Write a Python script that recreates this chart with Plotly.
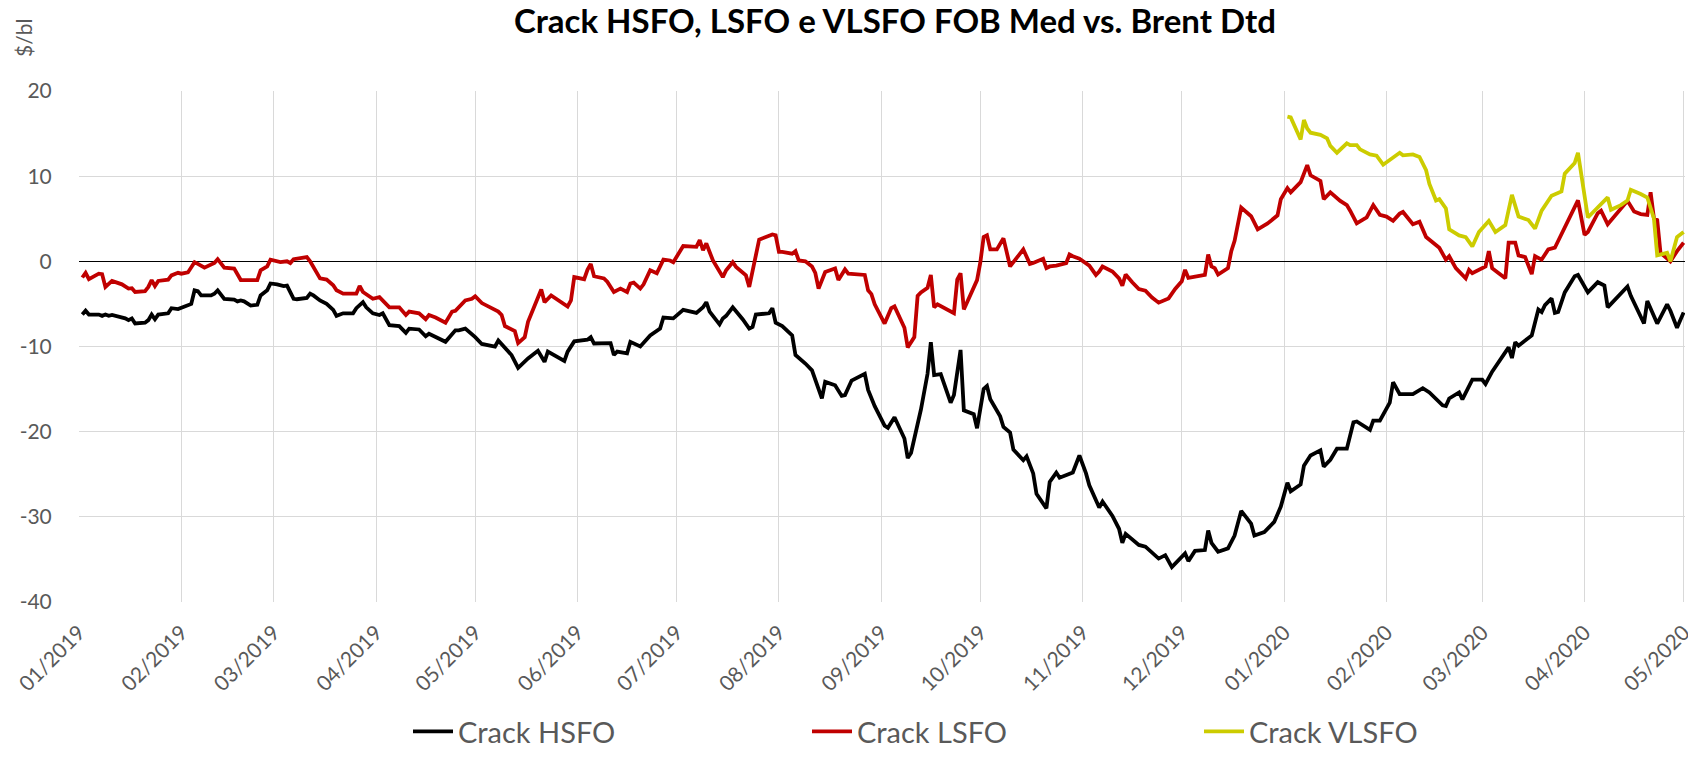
import plotly.graph_objects as go

# ---------------- data ----------------
hsfo_dates = [
    "2019-01-02","2019-01-03","2019-01-04","2019-01-07","2019-01-08","2019-01-09","2019-01-10","2019-01-11",
    "2019-01-15","2019-01-16","2019-01-17","2019-01-18","2019-01-21","2019-01-22","2019-01-23","2019-01-24",
    "2019-01-25","2019-01-28","2019-01-29","2019-01-31","2019-02-02","2019-02-04","2019-02-05","2019-02-06",
    "2019-02-07","2019-02-10","2019-02-11","2019-02-12","2019-02-14","2019-02-17","2019-02-18","2019-02-19",
    "2019-02-20","2019-02-22","2019-02-24","2019-02-25","2019-02-27","2019-02-28","2019-03-02","2019-03-04",
    "2019-03-05","2019-03-07","2019-03-08","2019-03-11","2019-03-12","2019-03-13","2019-03-15","2019-03-17",
    "2019-03-19","2019-03-20","2019-03-22","2019-03-25","2019-03-26","2019-03-28","2019-03-29","2019-03-31",
    "2019-04-02","2019-04-03","2019-04-05","2019-04-08","2019-04-10","2019-04-11","2019-04-14","2019-04-16",
    "2019-04-17","2019-04-19","2019-04-22","2019-04-25","2019-04-26","2019-04-28","2019-04-30","2019-05-01",
    "2019-05-03","2019-05-07","2019-05-08","2019-05-10","2019-05-12","2019-05-14","2019-05-17","2019-05-20",
    "2019-05-22","2019-05-23","2019-05-28","2019-05-29","2019-05-31","2019-06-04","2019-06-05","2019-06-06",
    "2019-06-11","2019-06-12","2019-06-13","2019-06-16","2019-06-17","2019-06-20","2019-06-23","2019-06-26",
    "2019-06-27","2019-06-30","2019-07-03","2019-07-07","2019-07-09","2019-07-10","2019-07-11","2019-07-14",
    "2019-07-15","2019-07-16","2019-07-18","2019-07-21","2019-07-23","2019-07-24","2019-07-25","2019-07-29",
    "2019-07-30","2019-07-31","2019-08-02","2019-08-05","2019-08-06","2019-08-09","2019-08-11","2019-08-14",
    "2019-08-15","2019-08-18","2019-08-20","2019-08-21","2019-08-23","2019-08-27","2019-08-28","2019-08-30",
    "2019-09-02","2019-09-03","2019-09-05","2019-09-08","2019-09-09","2019-09-10","2019-09-12","2019-09-13",
    "2019-09-15","2019-09-16","2019-09-17","2019-09-19","2019-09-22","2019-09-23","2019-09-25","2019-09-26",
    "2019-09-29","2019-09-30","2019-10-02","2019-10-03","2019-10-04","2019-10-07","2019-10-08","2019-10-10",
    "2019-10-11","2019-10-14","2019-10-15","2019-10-17","2019-10-18","2019-10-21","2019-10-22","2019-10-24",
    "2019-10-25","2019-10-29","2019-10-31","2019-11-02","2019-11-03","2019-11-05","2019-11-06","2019-11-07",
    "2019-11-10","2019-11-12","2019-11-13","2019-11-14","2019-11-18","2019-11-20","2019-11-22","2019-11-24",
    "2019-11-26","2019-11-28","2019-12-02","2019-12-03","2019-12-05","2019-12-08","2019-12-09","2019-12-10",
    "2019-12-12","2019-12-15","2019-12-17","2019-12-19","2019-12-22","2019-12-23","2019-12-26","2019-12-29",
    "2019-12-31","2020-01-02","2020-01-03","2020-01-06","2020-01-07","2020-01-09","2020-01-12","2020-01-13",
    "2020-01-15","2020-01-17","2020-01-20","2020-01-22","2020-01-23","2020-01-27","2020-01-28","2020-01-30",
    "2020-02-02","2020-02-03","2020-02-05","2020-02-09","2020-02-12","2020-02-14","2020-02-18","2020-02-19",
    "2020-02-20","2020-02-23","2020-02-24","2020-02-26","2020-02-27","2020-03-01","2020-03-02","2020-03-04",
    "2020-03-09","2020-03-10","2020-03-11","2020-03-12","2020-03-16","2020-03-18","2020-03-19","2020-03-20",
    "2020-03-22","2020-03-23","2020-03-24","2020-03-26","2020-03-29","2020-03-30","2020-04-02","2020-04-05",
    "2020-04-07","2020-04-08","2020-04-14","2020-04-15","2020-04-17","2020-04-19","2020-04-20","2020-04-23",
    "2020-04-26","2020-04-27","2020-04-29","2020-05-01",
]
hsfo_values = [
    -6.25,-5.8,-6.25,-6.25,-6.4,-6.25,-6.4,-6.3,
    -6.7,-6.9,-6.7,-7.3,-7.2,-6.9,-6.25,-6.8,
    -6.25,-6.1,-5.5,-5.6,-5.3,-5.0,-3.4,-3.5,
    -4.0,-4.0,-3.8,-3.4,-4.4,-4.5,-4.7,-4.6,
    -4.7,-5.2,-5.1,-4.0,-3.4,-2.6,-2.7,-2.9,
    -2.85,-4.4,-4.45,-4.3,-3.8,-4.0,-4.6,-5.0,
    -5.7,-6.4,-6.1,-6.1,-5.5,-4.8,-5.4,-6.1,
    -6.3,-6.1,-7.5,-7.6,-8.4,-7.9,-8.0,-8.8,
    -8.5,-8.9,-9.45,-8.1,-8.1,-7.9,-8.5,-8.9,
    -9.7,-10.0,-9.3,-10.2,-11.0,-12.5,-11.4,-10.5,
    -11.8,-10.6,-11.7,-10.6,-9.4,-9.2,-8.9,-9.65,
    -9.6,-11.0,-10.6,-10.8,-9.45,-10.0,-8.7,-7.9,
    -6.6,-6.7,-5.7,-6.05,-5.4,-4.8,-5.9,-7.4,
    -6.7,-6.4,-5.4,-6.8,-7.9,-7.7,-6.25,-6.1,
    -5.5,-7.2,-7.6,-8.7,-11.0,-12.0,-12.8,-16.1,
    -14.15,-14.55,-15.8,-15.7,-14.0,-13.2,-15.1,-17.0,
    -19.3,-19.55,-18.3,-20.8,-23.1,-22.5,-19.0,-17.4,
    -13.2,-9.5,-13.35,-13.25,-16.6,-15.7,-10.4,-17.5,
    -17.95,-19.6,-15.0,-14.65,-16.2,-18.2,-19.45,-20.1,
    -22.1,-23.35,-22.9,-24.9,-27.3,-29.0,-25.9,-24.8,
    -25.4,-24.8,-22.8,-24.9,-26.3,-28.2,-28.9,-28.2,
    -29.9,-31.4,-33.05,-32.0,-33.3,-33.5,-34.2,-34.9,
    -34.5,-35.9,-34.3,-35.2,-34.0,-33.9,-31.6,-33.05,
    -34.1,-33.7,-32.2,-29.3,-30.8,-32.2,-31.8,-30.6,
    -28.8,-26.0,-27.0,-26.2,-24.0,-22.8,-22.2,-24.1,
    -23.3,-22.0,-22.0,-18.9,-18.8,-19.8,-18.7,-18.7,
    -16.6,-14.2,-15.6,-15.6,-14.9,-15.4,-16.9,-17.0,
    -16.1,-15.4,-16.2,-14.6,-13.9,-13.9,-14.4,-12.95,
    -10.1,-11.35,-9.5,-9.9,-8.7,-5.65,-5.95,-5.15,
    -4.35,-6.05,-5.95,-3.65,-1.75,-1.6,-3.65,-2.45,
    -2.85,-5.4,-2.95,-4.05,-5.65,-7.3,-4.65,-7.3,
    -5.05,-5.8,-7.8,-6.0,
]

lsfo_dates = [
    "2019-01-02","2019-01-03","2019-01-04","2019-01-07","2019-01-08","2019-01-09","2019-01-11","2019-01-14",
    "2019-01-16","2019-01-17","2019-01-18","2019-01-21","2019-01-22","2019-01-23","2019-01-24","2019-01-25",
    "2019-01-28","2019-01-29","2019-01-31","2019-02-01","2019-02-03","2019-02-05","2019-02-06","2019-02-08",
    "2019-02-11","2019-02-12","2019-02-14","2019-02-17","2019-02-19","2019-02-24","2019-02-25","2019-02-27",
    "2019-02-28","2019-03-03","2019-03-05","2019-03-06","2019-03-07","2019-03-11","2019-03-12","2019-03-15",
    "2019-03-17","2019-03-19","2019-03-20","2019-03-22","2019-03-26","2019-03-27","2019-03-28","2019-03-31",
    "2019-04-02","2019-04-05","2019-04-08","2019-04-10","2019-04-11","2019-04-14","2019-04-16","2019-04-17",
    "2019-04-19","2019-04-22","2019-04-24","2019-04-25","2019-04-28","2019-04-30","2019-05-01","2019-05-03",
    "2019-05-08","2019-05-09","2019-05-10","2019-05-13","2019-05-14","2019-05-16","2019-05-17","2019-05-21",
    "2019-05-22","2019-05-24","2019-05-29","2019-05-30","2019-05-31","2019-06-03","2019-06-04","2019-06-05",
    "2019-06-06","2019-06-09","2019-06-10","2019-06-12","2019-06-14","2019-06-16","2019-06-17","2019-06-18",
    "2019-06-20","2019-06-21","2019-06-23","2019-06-25","2019-06-27","2019-06-29","2019-06-30","2019-07-03",
    "2019-07-07","2019-07-08","2019-07-09","2019-07-10","2019-07-12","2019-07-15","2019-07-16","2019-07-18",
    "2019-07-19","2019-07-22","2019-07-23","2019-07-26","2019-07-30","2019-07-31","2019-08-01","2019-08-02",
    "2019-08-05","2019-08-06","2019-08-07","2019-08-09","2019-08-11","2019-08-12","2019-08-13","2019-08-15",
    "2019-08-18","2019-08-19","2019-08-21","2019-08-22","2019-08-27","2019-08-28","2019-08-29","2019-08-30",
    "2019-09-02","2019-09-04","2019-09-05","2019-09-08","2019-09-09","2019-09-11","2019-09-12","2019-09-13",
    "2019-09-15","2019-09-16","2019-09-17","2019-09-18","2019-09-23","2019-09-24","2019-09-25","2019-09-26",
    "2019-09-30","2019-10-01","2019-10-02","2019-10-03","2019-10-04","2019-10-06","2019-10-08","2019-10-10",
    "2019-10-12","2019-10-14","2019-10-16","2019-10-17","2019-10-20","2019-10-21","2019-10-22","2019-10-24",
    "2019-10-27","2019-10-28","2019-10-29","2019-10-31","2019-11-03","2019-11-05","2019-11-06","2019-11-07",
    "2019-11-10","2019-11-12","2019-11-13","2019-11-14","2019-11-16","2019-11-18","2019-11-20","2019-11-22",
    "2019-11-24","2019-11-26","2019-11-27","2019-11-29","2019-12-01","2019-12-02","2019-12-03","2019-12-08",
    "2019-12-09","2019-12-10","2019-12-11","2019-12-12","2019-12-15","2019-12-16","2019-12-17","2019-12-19",
    "2019-12-22","2019-12-24","2019-12-27","2019-12-30","2019-12-31","2020-01-02","2020-01-03","2020-01-06",
    "2020-01-08","2020-01-09","2020-01-12","2020-01-13","2020-01-15","2020-01-18","2020-01-20","2020-01-21",
    "2020-01-23","2020-01-26","2020-01-28","2020-01-30","2020-02-01","2020-02-03","2020-02-05","2020-02-06",
    "2020-02-09","2020-02-11","2020-02-13","2020-02-17","2020-02-19","2020-02-20","2020-02-22","2020-02-25",
    "2020-02-26","2020-02-27","2020-03-02","2020-03-03","2020-03-04","2020-03-06","2020-03-08","2020-03-09",
    "2020-03-11","2020-03-12","2020-03-14","2020-03-16","2020-03-17","2020-03-19","2020-03-21","2020-03-23",
    "2020-03-25","2020-03-30","2020-04-01","2020-04-02","2020-04-05","2020-04-06","2020-04-08","2020-04-12",
    "2020-04-14","2020-04-16","2020-04-18","2020-04-20","2020-04-21","2020-04-22","2020-04-23","2020-04-24",
    "2020-04-27","2020-04-29","2020-05-01",
]
lsfo_values = [
    -1.9,-1.35,-2.1,-1.45,-1.5,-3.0,-2.3,-2.7,
    -3.2,-3.15,-3.6,-3.5,-3.0,-2.2,-2.9,-2.3,
    -2.15,-1.65,-1.35,-1.45,-1.3,-0.1,-0.3,-0.75,
    -0.2,0.25,-0.75,-0.85,-2.2,-2.2,-1.05,-0.6,
    0.2,-0.1,0.0,-0.2,0.25,0.5,0.0,-2.0,
    -2.15,-2.8,-3.4,-3.8,-3.8,-2.9,-3.6,-4.4,
    -4.2,-5.4,-5.4,-6.3,-5.9,-6.1,-6.8,-6.3,
    -6.6,-7.2,-5.9,-5.8,-4.6,-4.4,-4.1,-4.9,
    -5.9,-6.3,-7.6,-8.2,-9.6,-8.9,-7.1,-3.3,
    -4.8,-4.0,-5.3,-4.6,-1.85,-2.1,-1.0,-0.3,
    -1.75,-2.0,-2.4,-3.6,-3.2,-3.6,-2.6,-2.5,
    -3.2,-2.7,-1.05,-1.4,0.2,0.1,-0.1,1.8,
    1.7,2.5,1.3,2.1,0.1,-1.85,-1.05,-0.1,
    -0.65,-1.65,-3.0,2.55,3.15,3.05,1.1,1.1,
    0.9,1.2,0.1,0.0,-0.6,-1.35,-3.2,-1.25,
    -0.85,-2.2,-0.95,-1.45,-1.6,-3.4,-3.85,-5.05,
    -7.3,-5.5,-5.3,-7.8,-10.1,-8.9,-4.05,-3.65,
    -3.1,-1.6,-5.4,-5.05,-6.1,-2.15,-1.4,-5.65,
    -2.2,-0.1,2.85,3.05,1.4,1.4,2.7,-0.6,
    0.4,1.4,-0.3,-0.2,0.3,-0.8,-0.6,-0.5,
    -0.2,0.8,0.6,0.3,-0.5,-1.6,-1.2,-0.6,
    -1.2,-2.0,-2.85,-1.55,-2.45,-3.25,-3.45,-4.25,
    -4.85,-4.45,-4.35,-3.25,-2.35,-1.0,-1.95,-1.6,
    0.8,-0.6,-0.8,-1.55,-0.8,1.2,2.4,6.3,
    5.3,3.75,4.45,5.4,7.3,8.6,8.1,9.3,
    11.3,10.1,9.45,7.3,8.1,7.1,6.6,5.95,
    4.45,5.15,6.6,5.45,5.25,4.75,5.6,5.8,
    4.35,4.65,2.85,1.6,0.2,0.6,-0.8,-2.0,
    -1.0,-1.4,-0.6,1.2,-0.8,-1.4,-2.0,2.2,
    2.2,0.7,0.5,-1.5,0.6,0.2,1.4,1.6,
    3.25,7.15,3.1,3.45,5.65,5.95,4.35,6.3,
    7.1,5.85,5.55,5.45,8.1,5.05,4.85,1.0,
    0.0,1.2,2.2,
]

vlsfo_dates = [
    "2020-01-02","2020-01-03","2020-01-06","2020-01-07","2020-01-08","2020-01-09","2020-01-12","2020-01-14",
    "2020-01-15","2020-01-17","2020-01-20","2020-01-21","2020-01-23","2020-01-24","2020-01-27","2020-01-29",
    "2020-01-31","2020-02-04","2020-02-05","2020-02-06","2020-02-09","2020-02-11","2020-02-13","2020-02-14",
    "2020-02-16","2020-02-17","2020-02-19","2020-02-20","2020-02-23","2020-02-25","2020-02-27","2020-02-29",
    "2020-03-03","2020-03-05","2020-03-08","2020-03-10","2020-03-12","2020-03-15","2020-03-17","2020-03-19",
    "2020-03-22","2020-03-25","2020-03-26","2020-03-29","2020-03-30","2020-04-02","2020-04-05","2020-04-08",
    "2020-04-09","2020-04-12","2020-04-14","2020-04-15","2020-04-18","2020-04-20","2020-04-22","2020-04-23",
    "2020-04-26","2020-04-27","2020-04-29","2020-05-01",
]
vlsfo_values = [
    17.0,16.9,14.3,16.6,15.6,15.1,14.85,14.45,
    13.55,12.75,13.85,13.65,13.65,13.15,12.55,12.4,
    11.35,12.55,12.75,12.45,12.55,12.25,10.7,9.1,
    7.15,7.3,6.2,3.75,3.05,2.85,1.75,3.45,
    4.75,3.45,4.25,7.8,5.25,4.85,3.85,5.95,
    7.7,8.2,10.3,11.55,12.75,5.15,6.35,7.5,
    6.05,6.6,7.15,8.4,7.9,7.5,5.05,0.7,
    1.0,0.0,2.85,3.45,
]

series_names = ["Crack HSFO", "Crack LSFO", "Crack VLSFO"]
series_colors = ["#000000", "#C00000", "#CCCC00"]
title_text = "Crack HSFO, LSFO e VLSFO FOB Med vs. Brent Dtd"
y_unit = "$/bl"
y_ticks = [-40, -30, -20, -10, 0, 10, 20]
y_tick_labels = ["-40", "-30", "-20", "-10", "0", "10", "20"]
x_start, x_end = "2019-01-01", "2020-05-01 10:00"

# ---------------- figure ----------------
FONT = "Lato, 'Open Sans', sans-serif"
GREY = "#595959"

fig = go.Figure()
all_series = [(hsfo_dates, hsfo_values), (lsfo_dates, lsfo_values), (vlsfo_dates, vlsfo_values)]
legend_ids = ["legend", "legend2", "legend3"]
for (xs, ys), name, col, lg in zip(all_series, series_names, series_colors, legend_ids):
    fig.add_trace(go.Scatter(
        x=xs, y=ys, mode="lines", name=name,
        line=dict(color=col, width=3.8),
        legend=lg,
    ))

W, H = 1688, 757
L, R, T, B = 79, 3, 91, 155
plot_w = W - L - R
plot_h = H - T - B

def legend_cfg(px_left):
    return dict(
        orientation="h", x=(px_left - L) / plot_w, xanchor="left",
        y=-(H - (H - B)) / plot_h, yanchor="bottom",
        font=dict(family=FONT, size=29, color=GREY),
        bgcolor="rgba(0,0,0,0)", itemwidth=40, borderwidth=0,
    )

fig.update_layout(
    width=W, height=H,
    margin=dict(l=L, r=R, t=T, b=B, autoexpand=False),
    paper_bgcolor="white", plot_bgcolor="white",
    font=dict(family=FONT, color=GREY),
    title=dict(
        text=f"<b>{title_text}</b>",
        font=dict(family=FONT, size=33, color="#000000"),
        x=(895 - L) / plot_w, xref="paper", xanchor="center",
        y=1 - 21 / H, yref="container", yanchor="middle",
    ),
    showlegend=True,
    legend=legend_cfg(408),
    legend2=legend_cfg(807),
    legend3=legend_cfg(1199),
    xaxis=dict(
        type="date",
        range=[x_start, x_end],
        tick0="2019-01-01", dtick="M1",
        tickformat="%m/%Y", tickangle=-45,
        tickfont=dict(family=FONT, size=21, color=GREY),
        ticks="outside", ticklen=9, tickcolor="rgba(0,0,0,0)",
        ticklabeloverflow="allow",
        showgrid=True, gridcolor="#D9D9D9", gridwidth=1,
        showline=False, zeroline=False,
    ),
    yaxis=dict(
        range=[-40, 20], tickvals=y_ticks, ticktext=y_tick_labels,
        tickfont=dict(family=FONT, size=21, color=GREY),
        ticks="outside", ticklen=22, tickcolor="rgba(0,0,0,0)",
        showgrid=True, gridcolor="#D9D9D9", gridwidth=1,
        zeroline=True, zerolinecolor="#000000", zerolinewidth=1,
        showline=False,
    ),
    annotations=[dict(
        text=y_unit, textangle=-90,
        x=(23 - L) / plot_w, y=1 + (T - 38) / plot_h,
        xref="paper", yref="paper", xanchor="center", yanchor="middle",
        showarrow=False, font=dict(family=FONT, size=21, color=GREY),
    )],
)

fig.write_html(
    "out.html",
    config={"displayModeBar": False},
    post_script="document.body.style.margin='0px';",
)
